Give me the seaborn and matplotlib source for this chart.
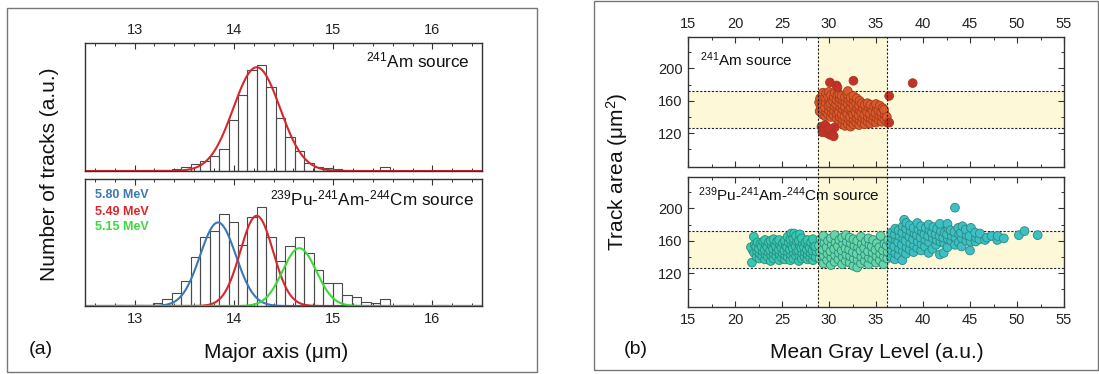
import numpy as np
import pandas as pd
import matplotlib
matplotlib.use("Agg")
import matplotlib.pyplot as plt
import matplotlib.transforms as mtransforms
from matplotlib.patches import Rectangle
from matplotlib.lines import Line2D
from matplotlib.ticker import MultipleLocator, FixedLocator
import seaborn as sns

# ---------------- panel (a): major-axis histograms ----------------
bin_start = 12.8
bin_width = 0.0955
n_bins = 39

am_counts = [1, 0, 1, 0, 2, 3, 7, 12, 20, 30, 45, 65, 150, 225, 300, 315, 250, 158,
             102, 60, 25, 12, 10, 5, 2, 1, 1, 0, 12, 0, 1, 0, 0, 0, 0, 0, 0, 0, 0]
mix_counts = [4, 0, 4, 0, 8, 21, 40, 76, 148, 205, 223, 275, 250, 183, 265, 295, 206, 136,
              181, 206, 158, 108, 70, 68, 33, 26, 13, 8, 20, 0, 4, 0, 0, 0, 4, 0, 0, 0, 0]

# gaussian fits: amplitude, centre, sigma
am_fit = [308, 14.23, 0.235]
mix_labels = ["5.80 MeV", "5.49 MeV", "5.15 MeV"]
mix_amp = [250, 270, 173]
mix_mu = [13.84, 14.23, 14.66]
mix_sigma = [0.18, 0.165, 0.17]
mix_colors = ["#3b79b4", "#d9262c", "#3cd83c"]

# ---------------- panel (b): track area vs gray level ----------------
am_main = [(29.0, 147), (29.1, 153), (28.95, 158), (29.05, 163),
           (29.3, 143), (29.35, 150), (29.25, 156), (29.4, 161), (29.3, 166), (29.35, 170),
           (29.6, 141), (29.7, 146), (29.55, 152), (29.65, 158), (29.6, 164), (29.7, 169),
           (29.9, 143), (30.0, 148), (29.95, 154), (30.05, 160), (29.9, 165), (30.0, 171),
           (30.2, 140), (30.3, 145), (30.25, 151), (30.15, 157), (30.3, 162), (30.2, 167),
           (30.5, 142), (30.55, 148), (30.6, 153), (30.45, 159), (30.5, 165), (30.6, 170),
           (30.8, 138), (30.85, 144), (30.9, 150), (30.75, 156), (30.8, 161), (30.9, 167),
           (31.1, 134), (31.15, 140), (31.05, 146), (31.2, 152), (31.1, 158), (31.15, 163), (31.1, 168),
           (31.4, 131), (31.45, 137), (31.35, 143), (31.5, 149), (31.4, 155), (31.45, 161), (31.35, 166),
           (31.7, 129), (31.75, 135), (31.65, 141), (31.8, 147), (31.7, 153), (31.75, 159), (31.7, 165),
           (32.0, 131), (32.05, 138), (31.95, 144), (32.1, 150), (32.0, 156), (32.05, 162), (31.95, 168), (32.0, 172),
           (32.3, 128), (32.35, 134), (32.25, 140), (32.4, 146), (32.3, 152), (32.35, 158), (32.3, 164),
           (32.6, 131), (32.65, 137), (32.55, 143), (32.7, 149), (32.6, 155), (32.65, 161), (32.6, 166),
           (32.9, 133), (32.95, 139), (32.85, 145), (33.0, 151), (32.9, 157), (32.95, 163),
           (33.2, 130), (33.25, 136), (33.15, 142), (33.3, 148), (33.2, 154), (33.25, 160),
           (33.5, 133), (33.55, 139), (33.45, 145), (33.6, 151), (33.5, 157),
           (33.8, 131), (33.85, 137), (33.75, 143), (33.9, 149), (33.8, 155),
           (34.1, 134), (34.15, 140), (34.05, 146), (34.2, 152), (34.1, 157),
           (34.4, 132), (34.45, 138), (34.35, 144), (34.5, 150), (34.4, 155),
           (34.7, 135), (34.75, 141), (34.65, 147), (34.8, 153),
           (35.0, 133), (35.05, 139), (34.95, 145), (35.1, 151), (35.0, 156),
           (35.3, 136), (35.35, 142), (35.25, 148), (35.4, 154),
           (35.6, 134), (35.65, 140), (35.55, 146), (35.7, 151),
           (35.9, 137), (35.95, 143), (35.85, 149),
           (36.2, 133), (36.15, 140)]
am_dark = [(29.2, 128), (29.5, 124), (29.8, 120), (30.1, 118), (29.6, 130), (30.3, 122),
           (30.6, 127), (30.5, 116), (29.3, 121), (29.9, 126),
           (30.1, 182.7), (30.8, 179), (30.9, 176.5), (32.6, 184.8), (38.9, 181.9),
           (36.4, 166), (36.4, 133)]

mix_left = [(21.8, 133), (21.9, 148), (21.7, 152), (22.0, 165), (22.05, 145), (22.1, 155),
            (22.3, 140), (22.35, 147), (22.25, 153), (22.4, 158),
            (22.6, 138), (22.65, 144), (22.55, 150), (22.7, 156),
            (22.9, 141), (22.95, 147), (22.85, 153), (23.0, 159),
            (23.2, 137), (23.25, 143), (23.15, 149), (23.3, 155), (23.2, 161),
            (23.5, 140), (23.55, 146), (23.45, 152), (23.6, 158),
            (23.8, 135), (23.85, 142), (23.75, 148), (23.9, 154), (23.8, 160),
            (24.1, 138), (24.15, 144), (24.05, 150), (24.2, 156), (24.1, 162),
            (24.4, 141), (24.45, 147), (24.35, 153), (24.5, 159),
            (24.7, 136), (24.75, 143), (24.65, 149), (24.8, 155), (24.7, 161),
            (25.0, 139), (25.05, 145), (24.95, 151), (25.1, 157),
            (25.3, 137), (25.35, 142), (25.25, 148), (25.4, 154), (25.3, 160),
            (25.6, 140), (25.65, 146), (25.55, 152), (25.7, 158), (25.6, 165),
            (25.9, 136), (25.95, 143), (25.85, 149), (26.0, 155), (25.9, 162), (26.0, 169),
            (26.2, 138), (26.25, 145), (26.15, 151), (26.3, 157), (26.2, 163), (26.3, 169),
            (26.5, 141), (26.55, 147), (26.45, 153), (26.6, 159), (26.5, 166),
            (26.8, 135), (26.85, 142), (26.75, 148), (26.9, 154), (26.8, 160), (26.9, 168),
            (27.1, 138), (27.15, 145), (27.05, 151), (27.2, 157), (27.1, 163),
            (27.4, 140), (27.45, 146), (27.35, 152), (27.5, 158),
            (27.7, 137), (27.75, 143), (27.65, 149), (27.8, 155), (27.7, 161),
            (28.0, 139), (28.05, 145), (27.95, 151), (28.1, 158),
            (28.3, 136), (28.35, 142), (28.25, 148), (28.4, 154), (28.3, 162),
            (28.6, 140), (28.65, 147), (28.55, 153)]
mix_mid = [(29.0, 138), (29.05, 146), (28.95, 154), (29.1, 162),
           (29.4, 132), (29.45, 141), (29.35, 149), (29.5, 157), (29.4, 166),
           (29.8, 136), (29.85, 144), (29.75, 152), (29.9, 160),
           (30.2, 130), (30.25, 139), (30.15, 147), (30.3, 155), (30.2, 163),
           (30.6, 134), (30.65, 142), (30.55, 150), (30.7, 158), (30.6, 167),
           (31.0, 137), (31.05, 145), (30.95, 153), (31.1, 161),
           (31.4, 131), (31.45, 140), (31.35, 148), (31.5, 156), (31.4, 164),
           (31.8, 135), (31.85, 143), (31.75, 151), (31.9, 159), (31.8, 167),
           (32.2, 133), (32.25, 141), (32.15, 149), (32.3, 157), (32.2, 164),
           (32.6, 129), (32.65, 138), (32.55, 146), (32.7, 154), (32.6, 162),
           (33.0, 127), (33.05, 136), (32.95, 144), (33.1, 152), (33.0, 160),
           (33.4, 132), (33.45, 140), (33.35, 148), (33.5, 156), (33.4, 165),
           (33.8, 135), (33.85, 143), (33.75, 151), (33.9, 159),
           (34.2, 131), (34.25, 139), (34.15, 147), (34.3, 155), (34.2, 163),
           (34.6, 137), (34.65, 145), (34.55, 153), (34.7, 161),
           (35.0, 133), (35.05, 141), (34.95, 149), (35.1, 157),
           (35.4, 136), (35.45, 144), (35.35, 152), (35.5, 166),
           (35.8, 131), (35.85, 140), (35.75, 148), (35.9, 156),
           (36.2, 138), (36.25, 146), (36.15, 154), (36.3, 161)]
mix_right = [(36.6, 140), (36.65, 148), (36.55, 156), (36.7, 163), (36.6, 170),
             (37.0, 137), (37.05, 145), (36.95, 153), (37.1, 161), (37.0, 168), (37.05, 175),
             (37.4, 142), (37.45, 150), (37.35, 158), (37.5, 166), (37.4, 173),
             (37.8, 136), (37.85, 147), (37.75, 155), (37.9, 163), (37.8, 170), (37.85, 178), (38.0, 186),
             (38.2, 144), (38.25, 152), (38.15, 160), (38.3, 168), (38.2, 175), (38.25, 182),
             (38.6, 149), (38.65, 157), (38.55, 165), (38.7, 172), (38.6, 179),
             (39.0, 146), (39.05, 154), (38.95, 162), (39.1, 169), (39.0, 176),
             (39.4, 151), (39.45, 159), (39.35, 167), (39.5, 174), (39.4, 182),
             (39.8, 148), (39.85, 156), (39.75, 164), (39.9, 171), (39.8, 178),
             (40.2, 153), (40.25, 161), (40.15, 168), (40.3, 176),
             (40.6, 145), (40.65, 158), (40.55, 166), (40.7, 173), (40.6, 180),
             (41.0, 150), (41.05, 163), (40.95, 170), (41.1, 177),
             (41.4, 155), (41.45, 161), (41.35, 168), (41.5, 175),
             (41.8, 143), (41.85, 159), (41.75, 166), (41.9, 172), (41.8, 181),
             (42.2, 145), (42.25, 157), (42.15, 164), (42.3, 170),
             (42.6, 152), (42.65, 162), (42.55, 168), (42.7, 175), (42.6, 181),
             (43.0, 160), (43.05, 166), (42.95, 173),
             (43.4, 155), (43.45, 164), (43.35, 171), (43.4, 201),
             (43.8, 158), (43.85, 168), (43.75, 176),
             (44.1, 153), (44.15, 163), (44.05, 170), (44.2, 178),
             (44.6, 160), (44.65, 167), (44.55, 174),
             (45.0, 148), (45.05, 159), (44.95, 166), (45.1, 176),
             (45.6, 159), (45.65, 164), (45.55, 170),
             (46.0, 162), (46.05, 169), (46.6, 161), (46.8, 164), (47.3, 166),
             (47.9, 161), (47.95, 166), (48.6, 163), (50.2, 167), (50.8, 172), (52.2, 167)]

gate_x = (28.8, 36.2)
gate_y = (126, 172)
band_color = "#fdf9d8"

# ---------------- styling ----------------
sns.set_theme(style="ticks")
plt.rcParams["font.family"] = ["Liberation Sans", "DejaVu Sans"]
plt.rcParams["mathtext.fontset"] = "custom"
plt.rcParams["mathtext.rm"] = "Liberation Sans"
plt.rcParams["mathtext.it"] = "Liberation Sans:italic"
plt.rcParams["mathtext.bf"] = "Liberation Sans:bold"

W, H = 1099, 374
fig = plt.figure(figsize=(W / 100, H / 100), dpi=100)


def box(x0, y0, x1, y1):
    # pixel box (top-left origin) -> figure fraction rect
    return [x0 / W, 1 - y1 / H, (x1 - x0) / W, (y1 - y0) / H]


def style_axes(ax):
    for sp in ax.spines.values():
        sp.set_color("#333333")
        sp.set_linewidth(1.0)
    ax.tick_params(which="both", direction="in", top=True, bottom=True, left=True, right=True,
                   color="#333333", labelsize=10.5, labelcolor="#222222", pad=4)
    ax.tick_params(which="major", length=4, width=0.8)
    ax.tick_params(which="minor", length=2.5, width=0.7)
    ax.set_xlabel("")
    ax.set_ylabel("")


# panel frames
for rect in [box(7, 8, 537, 372), box(594, 1, 1098, 370)]:
    fig.patches.append(Rectangle((rect[0], rect[1]), rect[2], rect[3], transform=fig.transFigure,
                                 fill=False, edgecolor="#777777", linewidth=1.0, zorder=-5))

edges = bin_start + bin_width * np.arange(n_bins + 1)
centers = edges[:-1] + bin_width / 2
xs = np.linspace(12.5, 16.5, 600)

ax_a1 = fig.add_axes(box(85, 43, 482, 171))
ax_a2 = fig.add_axes(box(85, 179, 482, 306))

for ax, counts in [(ax_a1, am_counts), (ax_a2, mix_counts)]:
    hist_df = pd.DataFrame({"major": centers, "count": counts})
    sns.histplot(data=hist_df, x="major", weights="count", binwidth=bin_width,
                 binrange=(edges[0], edges[-1]), ax=ax, fill=False, element="bars",
                 color="#4a4a4a", linewidth=0.8)
    ax.set_xlim(12.5, 16.5)
    ax.set_ylim(0, 380)
    ax.xaxis.set_major_locator(MultipleLocator(1))
    ax.xaxis.set_minor_locator(MultipleLocator(0.2))
    ax.set_yticks([])
    style_axes(ax)
    ax.tick_params(left=False, right=False)

sns.lineplot(x=xs, y=am_fit[0] * np.exp(-0.5 * ((xs - am_fit[1]) / am_fit[2]) ** 2),
             ax=ax_a1, color="#d9262c", linewidth=1.5)
for amp, mu, sig, col in zip(mix_amp, mix_mu, mix_sigma, mix_colors):
    sns.lineplot(x=xs, y=amp * np.exp(-0.5 * ((xs - mu) / sig) ** 2), ax=ax_a2,
                 color=col, linewidth=1.5)
for ax in (ax_a1, ax_a2):
    ax.set_xlabel("")
    ax.set_ylabel("")
ax_a1.tick_params(labelbottom=False, labeltop=True)
ax_a2.tick_params(labelbottom=True, labeltop=False)

ax_a1.text(0.97, 0.86, r"$\mathregular{^{241}}$Am source", transform=ax_a1.transAxes,
           ha="right", va="center", fontsize=12.3, color="#111111")
ax_a2.text(0.98, 0.85, r"$\mathregular{^{239}}$Pu-$\mathregular{^{241}}$Am-$\mathregular{^{244}}$Cm source",
           transform=ax_a2.transAxes, ha="right", va="center", fontsize=12.3, color="#111111")
for lab, col, yy in zip(mix_labels, mix_colors, [0.874, 0.742, 0.62]):
    ax_a2.text(0.025, yy, lab, transform=ax_a2.transAxes, ha="left", va="center",
               fontsize=9, fontweight="bold", color=col)

fig.text(50 / W, 1 - 174.5 / H, "Number of tracks (a.u.)", rotation=90, ha="center",
         va="center", fontsize=15, color="#111111")
fig.text(276 / W, 1 - 352 / H, "Major axis (\u03bcm)", ha="center", va="center",
         fontsize=15, color="#111111")
fig.text(41 / W, 1 - 349 / H, "(a)", ha="center", va="center", fontsize=14, color="#111111")

# ---------------- panel (b) ----------------
ax_b1 = fig.add_axes(box(688, 37, 1064, 167))
ax_b2 = fig.add_axes(box(688, 177, 1064, 307))

am_df = pd.DataFrame(am_main + am_dark, columns=["gray", "area"])
am_df["group"] = ["main"] * len(am_main) + ["dark"] * len(am_dark)
mix_df = pd.DataFrame(mix_left + mix_mid + mix_right, columns=["gray", "area"])
mix_df["group"] = ["left"] * len(mix_left) + ["mid"] * len(mix_mid) + ["right"] * len(mix_right)

for ax in (ax_b1, ax_b2):
    ax.set_facecolor("none")
    ax.axhspan(gate_y[0], gate_y[1], color=band_color, zorder=0, linewidth=0)
    for yv in gate_y:
        ax.axhline(yv, color="#222222", linestyle=(0, (2, 1.5)), linewidth=0.8, zorder=1)

sns.scatterplot(data=am_df, x="gray", y="area", hue="group", ax=ax_b1, legend=False,
                palette={"main": "#d95b2b", "dark": "#c4302a"}, s=40,
                edgecolor="#a83a1c", linewidth=0.6, zorder=3)
sns.scatterplot(data=mix_df, x="gray", y="area", hue="group", ax=ax_b2, legend=False,
                palette={"left": "#38c8b2", "mid": "#68d5a6", "right": "#3dbfc4"}, s=40,
                edgecolor="#2a8a80", linewidth=0.6, zorder=3)

for ax in (ax_b1, ax_b2):
    ax.set_xlim(15, 55)
    ax.set_ylim(78, 239)
    ax.xaxis.set_major_locator(MultipleLocator(5))
    ax.xaxis.set_minor_locator(MultipleLocator(2.5))
    ax.yaxis.set_major_locator(FixedLocator([120, 160, 200]))
    ax.yaxis.set_minor_locator(FixedLocator([100, 140, 180, 220]))
    style_axes(ax)
ax_b1.tick_params(labelbottom=False, labeltop=True)
ax_b2.tick_params(labelbottom=True, labeltop=False)

# vertical gate runs through both axes and the gap between them
blend = mtransforms.blended_transform_factory(ax_b1.transData, fig.transFigure)
y_lo = 1 - 307 / H
y_hi = 1 - 37 / H
fig.patches.append(Rectangle((gate_x[0], y_lo), gate_x[1] - gate_x[0], y_hi - y_lo,
                             transform=blend, facecolor=band_color, edgecolor="none", zorder=-2))
for xv in gate_x:
    fig.lines.append(Line2D([xv, xv], [y_lo, y_hi], transform=blend, color="#222222",
                            linestyle=(0, (2, 1.5)), linewidth=0.8, zorder=5))

ax_b1.text(0.032, 0.825, r"$\mathregular{^{241}}$Am source", transform=ax_b1.transAxes,
           ha="left", va="center", fontsize=11, color="#111111")
ax_b2.text(0.027, 0.863, r"$\mathregular{^{239}}$Pu-$\mathregular{^{241}}$Am-$\mathregular{^{244}}$Cm source",
           transform=ax_b2.transAxes, ha="left", va="center", fontsize=11, color="#111111")

fig.text(617 / W, 1 - 172 / H, "Track area (\u03bcm$^2$)", rotation=90, ha="center",
         va="center", fontsize=15, color="#111111")
fig.text(877 / W, 1 - 352 / H, "Mean Gray Level (a.u.)", ha="center", va="center",
         fontsize=15, color="#111111")
fig.text(636 / W, 1 - 349 / H, "(b)", ha="center", va="center", fontsize=14, color="#111111")

fig.savefig("out.png", dpi=100)
